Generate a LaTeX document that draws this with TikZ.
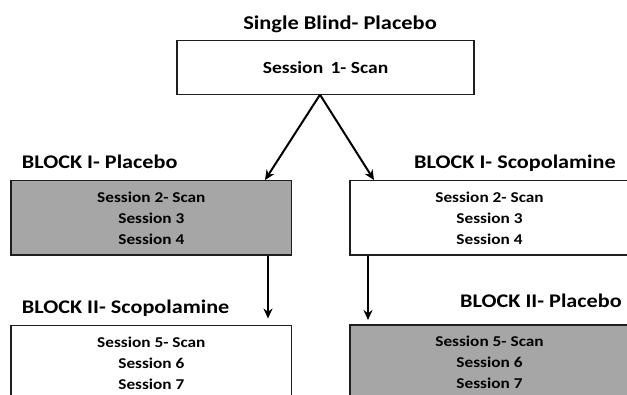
\documentclass[tikz,border=0pt]{standalone}
\usepackage{fontspec}
\setmainfont{Carlito}[FakeStretch=1.15]
\usetikzlibrary{arrows.meta}
\definecolor{boxgray}{RGB}{166,166,166}
\definecolor{edge}{RGB}{30,30,30}
\tikzset{
  box/.style={draw=edge, line width=1.3pt, rectangle, inner sep=0pt, align=center,
    font=\bfseries\fontsize{15}{21}\selectfont},
  title/.style={inner sep=0pt, font=\bfseries\fontsize{19.5}{22}\selectfont},
  blocklabel/.style={inner sep=0pt, font=\bfseries\fontsize{19.3}{22}\selectfont},
  arr/.style={line width=2pt, -{Stealth[length=10pt,width=9pt]}}
}
\begin{document}
\begin{tikzpicture}[x=1pt,y=-1pt]
\useasboundingbox (0,0) rectangle (627,395);
% top
\node[title, anchor=base] (t0) at (340,30) {Single Blind- Placebo};
\node[box, minimum width=297pt, minimum height=54pt, font=\bfseries\fontsize{17}{21}\selectfont] (s1) at (325.5,67.7) {Session\, 1- Scan};
% block I
\node[blocklabel, anchor=base west] (t1l) at (21.7,169) {BLOCK I- Placebo};
\node[blocklabel, anchor=base west] (t1r) at (414,169) {BLOCK I- Scopolamine};
\node[box, fill=boxgray, minimum width=280.7pt, minimum height=74.3pt] (b1l) at (151.35,217.85) {Session 2- Scan\\Session 3\\Session 4};
\node[box, minimum width=279pt, minimum height=74.3pt] (b1r) at (489.5,217.85) {Session 2- Scan\\Session 3\\Session 4};
% block II
\node[blocklabel, anchor=base west] (t2l) at (21.7,314) {BLOCK II- Scopolamine};
\node[blocklabel, anchor=base west] (t2r) at (460,308) {BLOCK II- Placebo};
\node[box, minimum width=280.7pt, minimum height=74.3pt] (b2l) at (151.35,362.85) {Session 5- Scan\\Session 6\\Session 7};
\node[box, fill=boxgray, minimum width=279pt, minimum height=74.3pt] (b2r) at (489.5,362.3) {Session 5- Scan\\Session 6\\Session 7};
% connectors
\coordinate (apex) at (320,94.7);
\draw[arr] (apex) -- (b1l.north -| 265,0);
\draw[arr] (apex) -- (b1r.north -| 374,0);
\draw[arr, shorten >=6.5pt] (b1l.south -| 268,0) -- (b2l.north -| 268,0);
\draw[arr, shorten >=4.5pt] (b1r.south -| 368,0) -- (b2r.north -| 368,0);
\end{tikzpicture}
\end{document}
